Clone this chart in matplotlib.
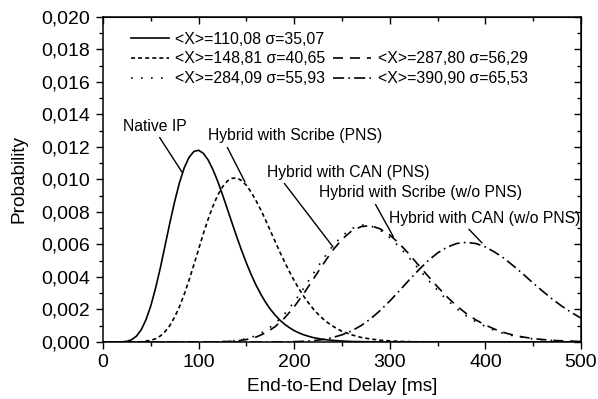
import numpy as np
import matplotlib
matplotlib.use("Agg")
import matplotlib.pyplot as plt
from matplotlib.lines import Line2D
from matplotlib.ticker import MultipleLocator, FuncFormatter

plt.rcParams["font.family"] = ["Liberation Sans", "DejaVu Sans"]
plt.rcParams["lines.scale_dashes"] = False

# Native IP, read every 5 ms around the peak
native_x = [0, 10, 20, 25, 30, 35, 40, 45, 50, 55, 60, 65, 70, 75, 80, 85, 90, 95, 100, 105,
            110, 115, 120, 125, 130, 135, 140, 145, 150, 155, 160, 165, 170, 175, 180, 185, 190, 195, 200, 205,
            210, 215, 220, 230, 240, 250, 260, 270, 280, 290, 500]
native_ip = [0, 0, 0.00001, 0.00004, 0.00014, 0.00036, 0.00075, 0.00137, 0.00222, 0.00331,
             0.00456, 0.00595, 0.00734, 0.00865, 0.00980, 0.01072, 0.01136, 0.01172, 0.01180, 0.01161,
             0.01120, 0.01061, 0.00989, 0.00907, 0.00820, 0.00732, 0.00646, 0.00563, 0.00486, 0.00415,
             0.00351, 0.00295, 0.00245, 0.00202, 0.00166, 0.00135, 0.00109, 0.00088, 0.00070, 0.00056,
             0.00044, 0.00035, 0.00027, 0.00016, 0.00010, 0.00006, 0.00003, 0.00002, 0.00001, 0, 0]

# Hybrid with Scribe (PNS)
scribe_x = [0, 30, 40, 50, 55, 60, 65, 70, 75, 80, 85, 90, 95, 100, 105, 110, 115, 120, 125, 130,
            135, 140, 145, 150, 155, 160, 165, 170, 175, 180, 185, 190, 195, 200, 205, 210, 215, 220, 225, 230,
            235, 240, 245, 250, 260, 270, 280, 290, 300, 310, 320, 330, 340, 500]
scribe_pns = [0, 0, 0.00001, 0.00010, 0.00020, 0.00037, 0.00064, 0.00102, 0.00154, 0.00217,
              0.00294, 0.00380, 0.00474, 0.00570, 0.00667, 0.00756, 0.00836, 0.00903, 0.00954, 0.00990,
              0.01007, 0.01010, 0.00993, 0.00964, 0.00922, 0.00870, 0.00814, 0.00751, 0.00685, 0.00620,
              0.00554, 0.00492, 0.00433, 0.00378, 0.00327, 0.00281, 0.00240, 0.00203, 0.00171, 0.00143,
              0.00119, 0.00099, 0.00081, 0.00066, 0.00044, 0.00028, 0.00018, 0.00011, 0.00007, 0.00004,
              0.00002, 0.00001, 0, 0]

# the three wide curves, read every 10 ms
delay_ms = np.arange(0, 510, 10)
can_pns = [0, 0, 0, 0, 0, 0, 0, 0, 0, 0,
           0, 0, 0.00001, 0.00003, 0.00007, 0.00015, 0.00030, 0.00056, 0.00094, 0.00148,
           0.00217, 0.00298, 0.00387, 0.00477, 0.00562, 0.00632, 0.00683, 0.00710, 0.00716, 0.00696,
           0.00659, 0.00605, 0.00542, 0.00473, 0.00405, 0.00339, 0.00277, 0.00222, 0.00175, 0.00136,
           0.00104, 0.00078, 0.00057, 0.00041, 0.00030, 0.00021, 0.00015, 0.00010, 0.00007, 0.00005, 0.00003]
scribe_wo_pns = [0, 0, 0, 0, 0, 0, 0, 0, 0, 0,
                 0, 0, 0.00001, 0.00004, 0.00010, 0.00020, 0.00038, 0.00070, 0.00113, 0.00173,
                 0.00246, 0.00331, 0.00421, 0.00509, 0.00589, 0.00652, 0.00697, 0.00720, 0.00715, 0.00688,
                 0.00643, 0.00585, 0.00520, 0.00450, 0.00382, 0.00318, 0.00258, 0.00205, 0.00161, 0.00125,
                 0.00095, 0.00070, 0.00051, 0.00037, 0.00027, 0.00019, 0.00013, 0.00009, 0.00006, 0.00004, 0.00003]
can_wo_pns = [0, 0, 0, 0, 0, 0, 0, 0, 0, 0,
              0, 0, 0, 0, 0, 0, 0, 0, 0, 0,
              0.00002, 0.00004, 0.00008, 0.00015, 0.00027, 0.00044, 0.00068, 0.00101, 0.00143, 0.00194,
              0.00252, 0.00315, 0.00380, 0.00442, 0.00500, 0.00548, 0.00584, 0.00606, 0.00613, 0.00606,
              0.00585, 0.00552, 0.00513, 0.00465, 0.00415, 0.00362, 0.00312, 0.00264, 0.00220, 0.00181, 0.00147]

legend_labels = ["<X>=110,08 \u03c3=35,07", "<X>=148,81 \u03c3=40,65", "<X>=284,09 \u03c3=55,93",
                 "<X>=287,80 \u03c3=56,29", "<X>=390,90 \u03c3=65,53"]

# (text, point on curve, text position, attach point on text box)
annotations = [
    ("Native IP", (82.6, 0.01046), (53.9, 0.01329), (0.54, 0)),
    ("Hybrid with Scribe (PNS)", (148.5, 0.00985), (200.8, 0.01268), (0.10, 0)),
    ("Hybrid with CAN (PNS)", (240.6, 0.00585), (256.3, 0.01046), (0.09, 0)),
    ("Hybrid with Scribe (w/o PNS)", (303.7, 0.00648), (331.6, 0.00917), (0.27, 0)),
    ("Hybrid with CAN (w/o PNS)", (396.4, 0.00610), (399.0, 0.00763), (0.40, 0)),
]

fig = plt.figure(figsize=(5.98, 3.99), dpi=100)
ax = fig.add_axes([0.1722, 0.1429, 0.7994, 0.8145])

lw = 1.2
l_native, = ax.plot(native_x, native_ip, color="black", lw=lw, linestyle="-")
l_scribe, = ax.plot(scribe_x, scribe_pns, color="black", lw=lw, linestyle=(0, (2.9, 2.2)))
l_scribe_wo, = ax.plot(delay_ms, scribe_wo_pns, color="black", lw=lw, linestyle=(0, (1.2, 6.0)))
l_can, = ax.plot(delay_ms, can_pns, color="black", lw=lw, linestyle=(0, (7.2, 5.0)))
l_can_wo, = ax.plot(delay_ms, can_wo_pns, color="black", lw=lw, linestyle=(0, (8.0, 3.0, 1.2, 3.0)))

blank = Line2D([], [], linestyle="none")
handles = [l_native, l_scribe, l_scribe_wo, blank, l_can, l_can_wo]
labels = [legend_labels[0], legend_labels[1], legend_labels[2], "", legend_labels[3], legend_labels[4]]
ax.legend(handles, labels, ncol=2, loc="upper left", bbox_to_anchor=(0.0586, 0.955),
          frameon=False, fontsize=11.4, handlelength=2.4, handletextpad=0.4,
          columnspacing=0.5, labelspacing=0.3, borderpad=0, borderaxespad=0)

for text, xy, xytext, relpos in annotations:
    ax.annotate(text, xy=xy, xytext=xytext, fontsize=11.3, ha="center", va="center",
                arrowprops=dict(arrowstyle="-", color="black", lw=1.0, relpos=relpos,
                                shrinkA=1, shrinkB=0))

ax.set_xlim(0, 500)
ax.set_ylim(0, 0.020)
ax.set_xticks(np.arange(0, 501, 100))
ax.set_yticks(np.arange(0, 0.0201, 0.002))
ax.xaxis.set_minor_locator(MultipleLocator(50))
ax.yaxis.set_minor_locator(MultipleLocator(0.001))
ax.yaxis.set_major_formatter(FuncFormatter(lambda v, p: f"{v:.3f}".replace(".", ",")))
ax.tick_params(which="major", direction="out", length=5, width=1.0, labelsize=14, pad=4)
ax.tick_params(which="minor", direction="out", length=3, width=1.0)
for sp in ax.spines.values():
    sp.set_linewidth(1.1)

top = ax.secondary_xaxis("top")
top.set_xticks(np.arange(0, 501, 100))
top.xaxis.set_minor_locator(MultipleLocator(50))
top.tick_params(which="both", direction="in", labeltop=False)
top.tick_params(which="major", length=5, width=1.0)
top.tick_params(which="minor", length=3, width=1.0)

right = ax.secondary_yaxis("right")
right.set_yticks(np.arange(0, 0.0201, 0.002))
right.yaxis.set_minor_locator(MultipleLocator(0.001))
right.tick_params(which="both", direction="in", labelright=False)
right.tick_params(which="major", length=5, width=1.0)
right.tick_params(which="minor", length=3, width=1.0)

ax.set_xlabel("End-to-End Delay [ms]", fontsize=13.7, labelpad=5)
ax.set_ylabel("Probability", fontsize=13.7, labelpad=10)

fig.savefig("out.png", dpi=100)
